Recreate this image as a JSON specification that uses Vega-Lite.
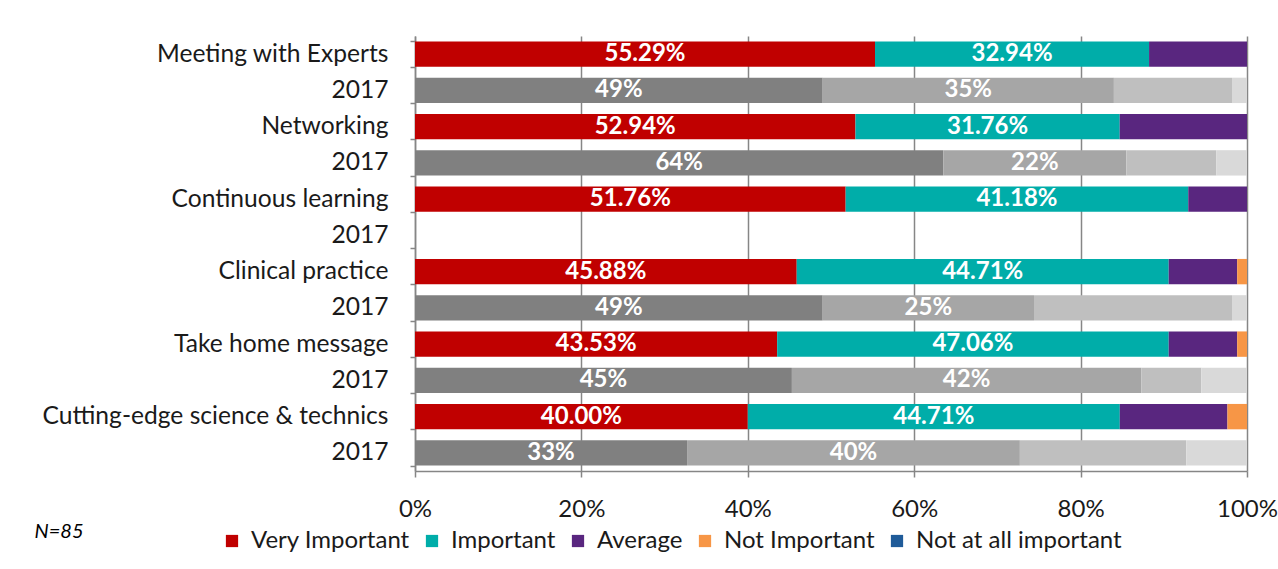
{
  "$schema": "https://vega.github.io/schema/vega-lite/v6.json",
  "width": 832,
  "height": 435,
  "autosize": {"type": "none"},
  "padding": {"left": 415, "top": 36, "right": 31, "bottom": 98},
  "background": "white",
  "config": {
    "view": {"stroke": null},
    "font": "Lato",
    "axis": {"labelFont": "Lato", "titleFont": "Lato"},
    "legend": {"labelFont": "Lato"}
  },
  "data": {
    "values": [
      {"row": "Meeting with Experts", "seg": "Very Important", "value": 55.29, "label": "55.29%", "rank": 1},
      {"row": "Meeting with Experts", "seg": "Important", "value": 32.94, "label": "32.94%", "rank": 2},
      {"row": "Meeting with Experts", "seg": "Average", "value": 11.77, "label": "", "rank": 3},
      {"row": "Meeting with Experts|2017", "seg": "g1", "value": 49, "label": "49%", "rank": 6},
      {"row": "Meeting with Experts|2017", "seg": "g2", "value": 35, "label": "35%", "rank": 7},
      {"row": "Meeting with Experts|2017", "seg": "g3", "value": 14.2, "label": "", "rank": 8},
      {"row": "Meeting with Experts|2017", "seg": "g4", "value": 1.8, "label": "", "rank": 9},
      {"row": "Networking", "seg": "Very Important", "value": 52.94, "label": "52.94%", "rank": 1},
      {"row": "Networking", "seg": "Important", "value": 31.76, "label": "31.76%", "rank": 2},
      {"row": "Networking", "seg": "Average", "value": 15.3, "label": "", "rank": 3},
      {"row": "Networking|2017", "seg": "g1", "value": 63.5, "label": "64%", "rank": 6},
      {"row": "Networking|2017", "seg": "g2", "value": 22, "label": "22%", "rank": 7},
      {"row": "Networking|2017", "seg": "g3", "value": 10.8, "label": "", "rank": 8},
      {"row": "Networking|2017", "seg": "g4", "value": 3.7, "label": "", "rank": 9},
      {"row": "Continuous learning", "seg": "Very Important", "value": 51.76, "label": "51.76%", "rank": 1},
      {"row": "Continuous learning", "seg": "Important", "value": 41.18, "label": "41.18%", "rank": 2},
      {"row": "Continuous learning", "seg": "Average", "value": 7.06, "label": "", "rank": 3},
      {"row": "Clinical practice", "seg": "Very Important", "value": 45.88, "label": "45.88%", "rank": 1},
      {"row": "Clinical practice", "seg": "Important", "value": 44.71, "label": "44.71%", "rank": 2},
      {"row": "Clinical practice", "seg": "Average", "value": 8.23, "label": "", "rank": 3},
      {"row": "Clinical practice", "seg": "Not Important", "value": 1.18, "label": "", "rank": 4},
      {"row": "Clinical practice|2017", "seg": "g1", "value": 49, "label": "49%", "rank": 6},
      {"row": "Clinical practice|2017", "seg": "g2", "value": 25.4, "label": "25%", "rank": 7},
      {"row": "Clinical practice|2017", "seg": "g3", "value": 23.8, "label": "", "rank": 8},
      {"row": "Clinical practice|2017", "seg": "g4", "value": 1.8, "label": "", "rank": 9},
      {"row": "Take home message", "seg": "Very Important", "value": 43.53, "label": "43.53%", "rank": 1},
      {"row": "Take home message", "seg": "Important", "value": 47.06, "label": "47.06%", "rank": 2},
      {"row": "Take home message", "seg": "Average", "value": 8.23, "label": "", "rank": 3},
      {"row": "Take home message", "seg": "Not Important", "value": 1.18, "label": "", "rank": 4},
      {"row": "Take home message|2017", "seg": "g1", "value": 45.3, "label": "45%", "rank": 6},
      {"row": "Take home message|2017", "seg": "g2", "value": 42, "label": "42%", "rank": 7},
      {"row": "Take home message|2017", "seg": "g3", "value": 7.2, "label": "", "rank": 8},
      {"row": "Take home message|2017", "seg": "g4", "value": 5.5, "label": "", "rank": 9},
      {"row": "Cutting-edge science & technics", "seg": "Very Important", "value": 40.0, "label": "40.00%", "rank": 1},
      {"row": "Cutting-edge science & technics", "seg": "Important", "value": 44.71, "label": "44.71%", "rank": 2},
      {"row": "Cutting-edge science & technics", "seg": "Average", "value": 12.94, "label": "", "rank": 3},
      {"row": "Cutting-edge science & technics", "seg": "Not Important", "value": 2.35, "label": "", "rank": 4},
      {"row": "Cutting-edge science & technics|2017", "seg": "g1", "value": 32.7, "label": "33%", "rank": 6},
      {"row": "Cutting-edge science & technics|2017", "seg": "g2", "value": 40, "label": "40%", "rank": 7},
      {"row": "Cutting-edge science & technics|2017", "seg": "g3", "value": 20, "label": "", "rank": 8},
      {"row": "Cutting-edge science & technics|2017", "seg": "g4", "value": 7.3, "label": "", "rank": 9}
    ]
  },
  "transform": [
    {"stack": "value", "groupby": ["row"], "sort": [{"field": "rank"}], "as": ["v0", "v1"]}
  ],
  "encoding": {
    "y": {
      "field": "row",
      "type": "nominal",
      "scale": {
        "domain": [
          "Meeting with Experts", "Meeting with Experts|2017",
          "Networking", "Networking|2017",
          "Continuous learning", "Continuous learning|2017",
          "Clinical practice", "Clinical practice|2017",
          "Take home message", "Take home message|2017",
          "Cutting-edge science & technics", "Cutting-edge science & technics|2017"
        ],
        "paddingInner": 0.3,
        "paddingOuter": 0.15
      },
      "axis": {
        "title": null,
        "labelExpr": "indexof(datum.label, '|') >= 0 ? '2017' : datum.label",
        "labelFontSize": 24.6,
        "labelColor": "#1a1a1a",
        "labelLimit": 0,
        "labelPadding": 22,
        "tickBand": "extent",
        "tickSize": 5,
        "tickColor": "#868686",
        "tickWidth": 1.5,
        "domainColor": "#868686",
        "domainWidth": 1.5,
        "grid": false
      }
    }
  },
  "layer": [
    {
      "mark": {"type": "bar"},
      "encoding": {
        "x": {
          "field": "v0",
          "type": "quantitative",
          "scale": {"domain": [0, 100], "nice": false},
          "axis": {
            "title": "N=85",
            "titleFontStyle": "italic",
            "titleFontWeight": "normal",
            "titleFontSize": 20,
            "titleColor": "#000000",
            "titleAnchor": "start",
            "titleAlign": "left",
            "titleBaseline": "top",
            "titleX": -381,
            "titleY": 50,
            "values": [0, 20, 40, 60, 80, 100],
            "labelExpr": "datum.value + '%'",
            "labelFontSize": 24,
            "labelColor": "#1a1a1a",
            "labelPadding": 20,
            "labelFlush": false,
            "tickSize": 6,
            "tickColor": "#868686",
            "tickWidth": 1.5,
            "domainColor": "#868686",
            "domainWidth": 1.5,
            "grid": true,
            "gridColor": "#868686",
            "gridWidth": 1.5
          }
        },
        "x2": {"field": "v1"},
        "color": {
          "field": "seg",
          "type": "nominal",
          "scale": {
            "domain": ["Very Important", "Important", "Average", "Not Important", "Not at all important", "g1", "g2", "g3", "g4"],
            "range": ["#C00000", "#00ADA9", "#59267F", "#F79646", "#1F5B99", "#808080", "#A6A6A6", "#BFBFBF", "#D9D9D9"]
          },
          "legend": {
            "title": null,
            "values": ["Very Important", "Important", "Average", "Not Important", "Not at all important"],
            "orient": "none",
            "direction": "horizontal",
            "legendX": -195,
            "legendY": 493,
            "symbolType": "square",
            "symbolSize": 150,
            "symbolStrokeWidth": 0,
            "labelFontSize": 24,
            "labelColor": "#1a1a1a",
            "labelLimit": 0,
            "labelOffset": 7,
            "columnPadding": 10
          }
        }
      }
    },
    {
      "transform": [
        {"filter": "datum.label != ''"},
        {"calculate": "(datum.v0 + datum.v1) / 2", "as": "mid"}
      ],
      "mark": {"type": "text", "color": "white", "fontWeight": "bold", "fontSize": 24, "align": "center", "baseline": "middle"},
      "encoding": {
        "x": {"field": "mid", "type": "quantitative"},
        "text": {"field": "label"}
      }
    }
  ]
}
